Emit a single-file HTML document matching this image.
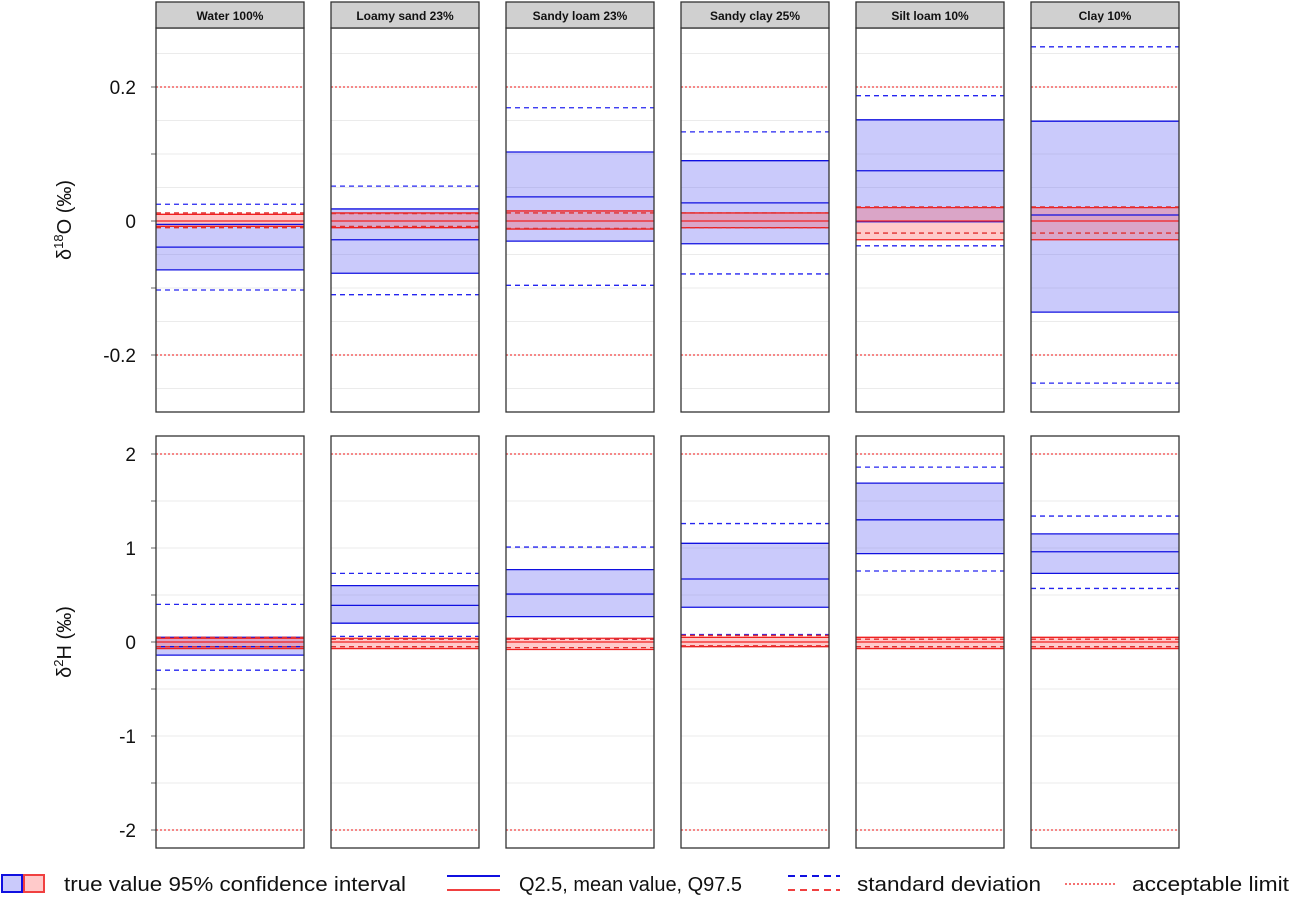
<!DOCTYPE html>
<html><head><meta charset="utf-8"><style>
body{margin:0;background:#fff;font-family:"Liberation Sans",sans-serif}
svg{display:block}
</style></head><body>
<svg id="chart" width="1290" height="897" xmlns="http://www.w3.org/2000/svg"></svg>
<script>
const panels=["Water 100%","Loamy sand 23%","Sandy loam 23%","Sandy clay 25%","Silt loam 10%","Clay 10%"];
// d18O blue (measured) series
const o_sdHi=[0.025,0.052,0.169,0.133,0.187,0.26];
const o_q975=[-0.005,0.018,0.103,0.09,0.151,0.149];
const o_mean=[-0.039,-0.028,0.036,0.027,0.075,0.009];
const o_q25=[-0.073,-0.078,-0.03,-0.034,-0.001,-0.136];
const o_sdLo=[-0.103,-0.11,-0.096,-0.079,-0.037,-0.242];
// d18O red (true value)
const o_tHi=[0.01,0.012,0.015,0.012,0.02,0.02];
const o_tMean=[0,0,0,0,0,0];
const o_tLo=[-0.008,-0.01,-0.012,-0.01,-0.028,-0.028];
const o_tsdHi=[0.012,0.011,0.012,0.012,0.021,0.021];
const o_tsdLo=[-0.01,-0.008,-0.011,-0.01,-0.018,-0.018];
// d2H blue
const h_sdHi=[0.40,0.73,1.01,1.26,1.86,1.34];
const h_q975=[0.05,0.60,0.77,1.05,1.69,1.15];
const h_mean=[-0.05,0.39,0.51,0.67,1.30,0.96];
const h_q25=[-0.14,0.20,0.27,0.37,0.94,0.73];
const h_sdLo=[-0.30,0.06,0.03,0.08,0.755,0.57];
// d2H red
const h_tHi=[0.04,0.04,0.04,0.05,0.05,0.05];
const h_tMean=[0,0,0,0,0,0];
const h_tLo=[-0.07,-0.07,-0.08,-0.05,-0.07,-0.07];
const h_tsdHi=[0.05,0.03,0.03,0.07,0.03,0.03];
const h_tsdLo=[-0.05,-0.05,-0.06,-0.04,-0.05,-0.05];
const oTicks=[0.2,0,-0.2];
const hTicks=[2,1,0,-1,-2];

const NS="http://www.w3.org/2000/svg";
const svg=document.getElementById('chart');
function mk(t,a,p){const e=document.createElementNS(NS,t);for(const k in a)e.setAttribute(k,a[k]);(p||svg).appendChild(e);return e;}
const px0=156,pw=148,pstep=175;
const yO=v=>221-v*670;
const yH=v=>642-v*94;

function drawRow(top,bot,ys,grid,minor,lim,ticks,labelFmt,blue,red,rowName,ylab){
  const g=mk('g',{});
  
  
  minor.forEach(v=>{mk('line',{x1:151,x2:156,y1:ys(v),y2:ys(v),stroke:'#666','stroke-width':1},g);});
  ticks.forEach(v=>{const t=mk('text',{x:136,y:ys(v)+7,'text-anchor':'end','font-size':19,fill:'#111'},g);t.textContent=labelFmt(v);
    });
  const yl=mk('text',{transform:`translate(71,${(top+bot)/2}) rotate(-90)`,'text-anchor':'middle','font-size':20,fill:'#111'},g);
  yl.innerHTML=ylab;
  
  panels.forEach((p,i)=>{
    const x=px0+i*pstep;
    const pg=mk('g',{},g);
    
    
    mk('rect',{x:x,y:top,width:pw,height:bot-top,fill:'#fff'},pg);
    grid.forEach(v=>mk('line',{x1:x,x2:x+pw,y1:ys(v),y2:ys(v),stroke:'#ebebeb','stroke-width':1},pg));
    const bb=mk('rect',{x:x,y:ys(blue.q975[i]),width:pw,height:ys(blue.q25[i])-ys(blue.q975[i]),fill:'rgba(110,110,245,0.37)'},pg);
    
    const rb=mk('rect',{x:x,y:ys(red.hi[i]),width:pw,height:ys(red.lo[i])-ys(red.hi[i]),fill:'rgba(255,80,80,0.3)'},pg);
    
    const hl=(v,c,d,w)=>mk('line',{x1:x,x2:x+pw,y1:ys(v),y2:ys(v),stroke:c,'stroke-width':w||1.3,'stroke-dasharray':d||'none'},pg);
    [blue.q975[i],blue.mean[i],blue.q25[i]].forEach(v=>hl(v,'#1010e0'));
    [blue.sdHi[i],blue.sdLo[i]].forEach(v=>hl(v,'#2525f0','5,4'));
    [red.hi[i],red.mean[i],red.lo[i]].forEach(v=>hl(v,'#f02020'));
    [red.sdHi[i],red.sdLo[i]].forEach(v=>hl(v,'#e03030','5,4'));
    lim.forEach(v=>hl(v,'#f04040','2,2',1.2));
    mk('rect',{x:x,y:top,width:pw,height:bot-top,fill:'none',stroke:'#333','stroke-width':1.3},pg);
  });
}
drawRow(28,412,yO,[0.25,0.2,0.15,0.1,0.05,0,-0.05,-0.1,-0.15,-0.2,-0.25],[0.2,0.1,0,-0.1,-0.2],[0.2,-0.2],oTicks,v=>v===0?'0':String(v),
  {sdHi:o_sdHi,q975:o_q975,mean:o_mean,q25:o_q25,sdLo:o_sdLo},
  {hi:o_tHi,mean:o_tMean,lo:o_tLo,sdHi:o_tsdHi,sdLo:o_tsdLo},'d18o-row','δ<tspan dy="-8" font-size="13">18</tspan><tspan dy="8">O (‰)</tspan>');
drawRow(436,848,yH,[2,1.5,1,0.5,0,-0.5,-1,-1.5,-2],[2,1.5,1,0.5,0,-0.5,-1,-1.5,-2],[2,-2],hTicks,v=>String(v),
  {sdHi:h_sdHi,q975:h_q975,mean:h_mean,q25:h_q25,sdLo:h_sdLo},
  {hi:h_tHi,mean:h_tMean,lo:h_tLo,sdHi:h_tsdHi,sdLo:h_tsdLo},'d2h-row','δ<tspan dy="-8" font-size="13">2</tspan><tspan dy="8">H (‰)</tspan>');
panels.forEach((p,i)=>{
  const x=px0+i*pstep;
  const r=mk('rect',{x:x,y:2,width:pw,height:26,fill:'#d0d0d0',stroke:'#333','stroke-width':1.3});
  
  const t=mk('text',{x:x+pw/2,y:20,'text-anchor':'middle','font-size':12,'font-weight':'bold',fill:'#111'});
  t.textContent=p;
  
});
const lg=mk('g',{});

mk('rect',{x:2,y:875,width:20,height:17,fill:'rgba(110,110,245,0.37)',stroke:'#1010e0','stroke-width':2},lg);
mk('rect',{x:24,y:875,width:20,height:17,fill:'rgba(255,80,80,0.3)',stroke:'#f04040','stroke-width':2},lg);
mk('line',{x1:447,x2:500,y1:876,y2:876,stroke:'#1010e0','stroke-width':2},lg);
mk('line',{x1:447,x2:500,y1:890,y2:890,stroke:'#f04040','stroke-width':2},lg);
mk('line',{x1:788,x2:840,y1:876,y2:876,stroke:'#1010e0','stroke-width':2,'stroke-dasharray':'7,5'},lg);
mk('line',{x1:788,x2:840,y1:890,y2:890,stroke:'#f04040','stroke-width':2,'stroke-dasharray':'7,5'},lg);
mk('line',{x1:1065,x2:1117,y1:884,y2:884,stroke:'#f04040','stroke-width':1.5,'stroke-dasharray':'2,2'},lg);
[[64,'true value 95% confidence interval',342],[519,'Q2.5, mean value, Q97.5',223],[857,'standard deviation',184],[1132,'acceptable limit',157]].forEach(([x,s,w])=>{
  const t=mk('text',{x:x,y:891,'font-size':20,fill:'#111',textLength:w,lengthAdjust:'spacingAndGlyphs'},lg);t.textContent=s;
  
});
</script>
</body></html>
